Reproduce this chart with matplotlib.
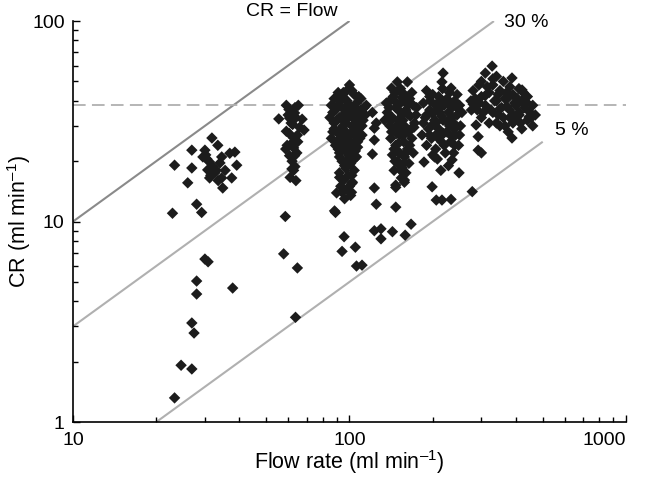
import numpy as np
import matplotlib
matplotlib.use("Agg")
import matplotlib.pyplot as plt

plt.rcParams['font.family'] = ['Liberation Sans', 'DejaVu Sans']
plt.rcParams['mathtext.fontset'] = 'custom'
plt.rcParams['mathtext.rm'] = 'Liberation Sans'

# flow rate (ml/min) and clearance (ml/min), by flow group
flow_1 = [31.8, 33.4, 26.9, 30.0, 38.5, 36.9, 23.3, 26.9, 31.2, 34.0, 39.1, 30.7, 32.6, 31.2,
          34.5, 37.5, 26.0, 34.8, 28.0, 29.2, 22.9, 29.5, 30.5, 32.0, 33.0, 31.5, 35.5, 33.5,
          30.2, 34.5, 30.0, 30.8, 28.0, 28.0, 37.8, 26.9, 27.4, 24.6, 26.9, 23.3]
cr_1 = [26.1, 24.0, 22.7, 22.7, 22.2, 21.9, 19.1, 18.5, 19.8, 19.6, 19.1, 18.1, 17.5, 16.5,
        16.5, 16.5, 15.6, 14.7, 12.2, 11.1, 11.0, 21.0, 20.5, 18.8, 18.0, 17.0, 18.0, 16.0,
        21.5, 21.0, 6.5, 6.3, 5.05, 4.35, 4.66, 3.12, 2.78, 1.92, 1.84, 1.32]

flow_2 = [59.1, 65.3, 60.4, 63.3, 55.5, 60.7, 67.4, 62.3, 68.5, 59.1, 64.8, 61.9, 58.8, 62.8,
          60.7, 63.3, 61.9, 62.8, 58.6, 57.8, 64.8, 63.8, 63.5, 60.0, 64.0, 61.5, 66.0, 60.5,
          63.0, 65.0, 59.5, 64.5, 62.0, 61.0, 64.0, 63.5]
cr_2 = [38.0, 38.0, 36.2, 34.8, 32.5, 32.8, 32.4, 30.5, 28.6, 28.2, 27.0, 24.6, 23.0, 23.3,
        21.3, 21.3, 18.3, 18.0, 10.6, 6.9, 5.87, 3.33, 37.0, 34.0, 33.0, 31.0, 29.5, 27.5,
        26.0, 25.0, 24.0, 22.0, 20.0, 16.6, 16.0, 18.8]

flow_3 = [100, 95, 104, 88, 110, 92, 98, 106, 86, 94, 101, 113, 89, 97, 104, 109, 85, 92, 99,
          106, 112, 88, 95, 102, 108, 90, 97, 104, 111, 86, 93, 100, 107, 89, 96, 103, 92, 99,
          106, 94, 101, 97, 104, 92, 99, 95, 102, 98, 94, 101, 96, 92, 88, 110, 115, 114, 87,
          96, 102, 91, 105, 98, 95, 100, 93, 103, 108, 90, 97, 100, 94, 107, 104,
          91, 99, 107, 95, 102, 90, 97, 105, 111, 93, 101, 87, 109, 95, 103, 91, 98, 105, 96,
          102, 93, 100, 97, 108, 93,
          92.1, 102.5, 89.8, 101.7, 88.3, 89.0, 95.6, 94.0, 105, 106, 111]
cr_3 = [48, 44, 43, 41, 41, 40, 40, 39, 38, 37, 37, 37, 36, 35, 35, 34, 33, 33, 33, 32, 32,
        31, 30, 30, 29, 28, 28, 27, 27, 26, 26, 25, 25, 24, 23.5, 23, 22, 21.5, 21, 20, 19.5,
        18.5, 18, 17.5, 17, 16, 15.5, 14.5, 14, 13.5, 13, 21, 29, 36, 38, 34, 35, 41, 45, 44,
        28, 26, 32, 35, 29, 33, 31, 25, 20, 23, 24.5, 23.5, 20.5,
        38, 38.5, 36, 34, 33.5, 32, 31, 30.5, 30, 27, 27.5, 28, 26, 25.5, 24.5, 23, 22.5, 22.5,
        19, 17, 15, 15, 44.5, 42, 42,
        16.6, 15.7, 13.9, 14.0, 11.3, 11.1, 8.4, 7.1, 7.45, 6.0, 6.06]

flow_4 = [149, 162, 142, 123, 123, 121, 149, 158, 155, 158, 147, 123, 125, 147, 147, 158,
          123, 130, 130, 143, 167, 159, 121, 125, 134,
          150, 158, 144, 165, 140, 153, 170, 147, 160, 137, 155, 166, 143, 150, 172, 140, 158,
          146, 163, 152, 168, 141, 157, 147, 162, 152, 170, 143, 158, 149, 164, 155, 145, 160,
          150, 163, 148, 156, 139, 174, 167, 145, 153, 161, 136, 168, 142, 175,
          146, 155, 162, 150, 142, 157, 165, 150, 160, 146, 154, 171, 138, 153, 148]
cr_4 = [49.7, 49.7, 46.3, 29.2, 25.5, 21.7, 19.6, 19.6, 17.7, 16.1, 15.2, 14.7, 12.2, 11.8,
        14.8, 15.7, 9.0, 9.2, 8.2, 8.9, 9.7, 8.55, 35, 31, 32,
        45, 43, 42, 41, 40, 39, 38, 37, 36, 35, 34, 33.5, 33, 32, 31, 30, 30, 29, 28, 27, 26,
        26, 25, 24, 23, 22, 22, 21.5, 21, 20, 19.5, 18.5, 18, 17.5, 36, 38, 27.5, 32, 37, 34,
        29, 23, 29, 40, 39, 44, 28, 37,
        44, 41.5, 34.5, 30.5, 32, 27, 24, 24.5, 22, 20, 16.5, 29.5, 33, 46, 39]

flow_5 = [218, 216, 233, 186, 203, 214, 235, 249, 199, 206, 216, 233, 278,
          190, 200, 210, 225, 240, 185, 205, 220, 235, 250, 195, 212, 228, 245, 188, 203, 218,
          238, 252, 193, 210, 225, 242, 198, 215, 232, 248, 205, 222, 238, 212, 230, 196, 217,
          245, 200, 230, 183, 190, 208, 228, 215, 200, 235, 255, 185, 219, 240, 205,
          195, 228, 210, 245, 190, 225, 205, 250, 195, 235, 220, 210, 200, 240, 215]
cr_5 = [55.0, 49.7, 46.3, 19.8, 21.0, 18.0, 20.3, 17.5, 14.9, 12.8, 12.8, 12.9, 14.1,
        45, 43, 42, 41, 40, 39, 38, 38, 37, 38, 36, 35, 35, 34, 33, 32, 32, 31, 30, 29, 29,
        28, 27, 26, 25, 25, 24, 23, 22, 22, 40, 44, 40, 46, 43, 30.5, 30, 27, 24, 20.5, 19,
        33.5, 34.5, 33, 35, 31, 27.5, 29, 27,
        42, 39, 36.5, 37, 34, 31.5, 31, 27, 27, 26.5, 24, 26, 21.5, 24, 37.5]

flow_6 = [328, 387, 294, 276, 287, 411, 446, 387, 292, 292, 300, 421,
          310, 340, 360, 300, 330, 380, 410, 280, 350, 320, 390, 440, 300, 365, 420, 275, 340,
          395, 460, 310, 355, 430, 290, 380, 330, 410, 470, 300, 360, 440, 320, 390, 350, 420,
          460, 375, 335, 350, 400, 315, 370, 425, 450, 400, 345, 365, 295, 280,
          330, 310, 375, 435, 285, 345, 405, 370, 325, 390, 455, 340, 415, 305, 380]
cr_6 = [59.6, 52.0, 48.0, 36.0, 30.3, 34.0, 33.2, 26.1, 26.5, 22.7, 22.0, 45.3,
        55, 53, 50, 50, 48, 47, 46, 45, 45, 44, 43, 42, 42, 41, 40, 40, 40, 39, 38, 38, 37,
        37, 36, 36, 35, 35, 34, 33, 33, 32, 31, 31, 30, 29, 30, 28, 40, 36.5, 38, 47, 44, 44,
        35, 32.5, 34, 30, 39, 38.5,
        51.5, 42.5, 41.5, 39.5, 41, 43, 41, 37.5, 36, 34, 33, 31, 31, 35, 33]

flow = np.concatenate([flow_1, flow_2, flow_3, flow_4, flow_5, flow_6])
cr = np.concatenate([cr_1, cr_2, cr_3, cr_4, cr_5, cr_6])

# reference lines: CR = fraction * flow, drawn over a flow range
line_fracs = [1.0, 0.3, 0.05]
line_ranges = [(10, 100), (10, 333), (20, 500)]
line_colors = ['#8a8a8a', '#b0b0b0', '#b0b0b0']
cr_max = 38

fig = plt.figure(figsize=(6.46, 4.78), dpi=100)
ax = fig.add_axes([0.113, 0.117, 0.856, 0.839])

for f, (x0, x1), c in zip(line_fracs, line_ranges, line_colors):
    xs = np.array([x0, x1])
    ax.plot(xs, f * xs, color=c, lw=1.5, zorder=1, solid_capstyle='butt')
ax.axhline(cr_max, color='#b0b0b0', lw=1.3, dashes=(7, 3.5), zorder=1)

ax.scatter(flow, cr, marker='D', s=34, color='#1c1c1c', edgecolors='none', zorder=3)

ax.set_xscale('log')
ax.set_yscale('log')
ax.set_xlim(10, 1000)
ax.set_ylim(1, 100)
ax.set_xticks([10, 100, 1000])
ax.set_xticklabels(['10', '100', '1000'])
ax.set_yticks([1, 10, 100])
ax.set_yticklabels(['1', '10', '100'])
ax.tick_params(which='both', direction='in', labelsize=14, width=1)
ax.tick_params(which='major', length=5)
ax.tick_params(which='minor', length=3.5)
ax.tick_params(axis='x', pad=7)
ax.tick_params(axis='y', pad=6)
ax.get_xticklabels()[-1].set_horizontalalignment('right')
for s in ['top', 'right']:
    ax.spines[s].set_visible(False)
for s in ['left', 'bottom']:
    ax.spines[s].set_linewidth(1.2)

ax.set_xlabel('Flow rate (ml min$^{\\mathregular{\u2013}1}$)', fontsize=15.5)
ax.set_ylabel('CR (ml min$^{\\mathregular{\u2013}1}$)', fontsize=15.5)
ax.xaxis.set_label_coords(0.5, -0.066)
ax.yaxis.set_label_coords(-0.072, 0.5)

ax.text(62, 111, 'CR = Flow', fontsize=14, ha='center', va='center', clip_on=False)
ax.text(363, 98, '30 %', fontsize=14, ha='left', va='center', clip_on=False)
ax.text(555, 28.6, '5 %', fontsize=14, ha='left', va='center', clip_on=False)

fig.savefig('out.png', dpi=100)
